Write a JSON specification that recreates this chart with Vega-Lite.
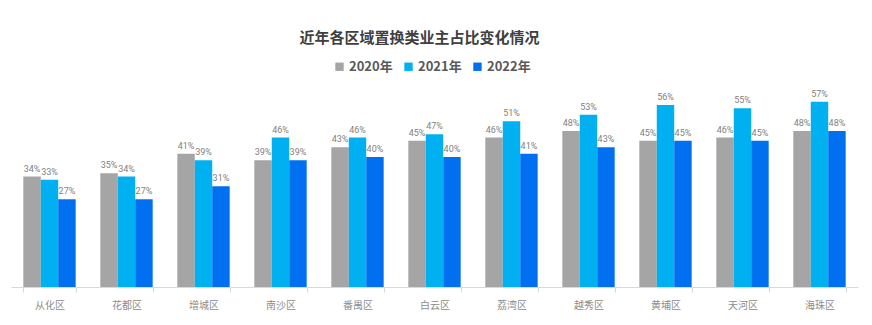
{
  "$schema": "https://vega.github.io/schema/vega-lite/v6.json",
  "autosize": "none",
  "width": 847,
  "height": 195,
  "padding": {"left": 11, "top": 92, "right": 14, "bottom": 38},
  "background": "white",
  "title": {
    "text": "近年各区域置换类业主占比变化情况",
    "fontSize": 15,
    "fontWeight": "bold",
    "color": "#404040",
    "font": "Noto Sans CJK SC",
    "anchor": "middle",
    "dx": -15,
    "offset": 14
  },
  "data": {
    "values": [
      {"district": "从化区", "year": "2020年", "value": 34},
      {"district": "从化区", "year": "2021年", "value": 33},
      {"district": "从化区", "year": "2022年", "value": 27},
      {"district": "花都区", "year": "2020年", "value": 35},
      {"district": "花都区", "year": "2021年", "value": 34},
      {"district": "花都区", "year": "2022年", "value": 27},
      {"district": "增城区", "year": "2020年", "value": 41},
      {"district": "增城区", "year": "2021年", "value": 39},
      {"district": "增城区", "year": "2022年", "value": 31},
      {"district": "南沙区", "year": "2020年", "value": 39},
      {"district": "南沙区", "year": "2021年", "value": 46},
      {"district": "南沙区", "year": "2022年", "value": 39},
      {"district": "番禺区", "year": "2020年", "value": 43},
      {"district": "番禺区", "year": "2021年", "value": 46},
      {"district": "番禺区", "year": "2022年", "value": 40},
      {"district": "白云区", "year": "2020年", "value": 45},
      {"district": "白云区", "year": "2021年", "value": 47},
      {"district": "白云区", "year": "2022年", "value": 40},
      {"district": "荔湾区", "year": "2020年", "value": 46},
      {"district": "荔湾区", "year": "2021年", "value": 51},
      {"district": "荔湾区", "year": "2022年", "value": 41},
      {"district": "越秀区", "year": "2020年", "value": 48},
      {"district": "越秀区", "year": "2021年", "value": 53},
      {"district": "越秀区", "year": "2022年", "value": 43},
      {"district": "黄埔区", "year": "2020年", "value": 45},
      {"district": "黄埔区", "year": "2021年", "value": 56},
      {"district": "黄埔区", "year": "2022年", "value": 45},
      {"district": "天河区", "year": "2020年", "value": 46},
      {"district": "天河区", "year": "2021年", "value": 55},
      {"district": "天河区", "year": "2022年", "value": 45},
      {"district": "海珠区", "year": "2020年", "value": 48},
      {"district": "海珠区", "year": "2021年", "value": 57},
      {"district": "海珠区", "year": "2022年", "value": 48}
    ]
  },
  "encoding": {
    "x": {
      "field": "district",
      "type": "nominal",
      "sort": null,
      "scale": {"paddingInner": 0.32, "paddingOuter": 0.16},
      "axis": {
        "title": null,
        "labelAngle": 0,
        "labelFont": "Noto Sans CJK SC",
        "labelFontSize": 10,
        "labelColor": "#8c8c8c",
        "labelPadding": 8,
        "domainColor": "#d9d9d9",
        "tickColor": "#d9d9d9",
        "tickBand": "extent",
        "tickSize": 5
      }
    },
    "xOffset": {"field": "year", "type": "nominal", "scale": {"paddingInner": 0, "paddingOuter": 0}},
    "y": {
      "field": "value",
      "type": "quantitative",
      "scale": {"domain": [0, 60]},
      "axis": null
    },
    "color": {
      "field": "year",
      "type": "nominal",
      "scale": {"domain": ["2020年", "2021年", "2022年"], "range": ["#a5a5a5", "#00b0f0", "#0070f0"]},
      "legend": {
        "title": null,
        "orient": "none",
        "direction": "horizontal",
        "legendX": 322,
        "legendY": -32,
        "symbolType": "square",
        "symbolSize": 70,
        "symbolStrokeWidth": 0,
        "labelFont": "Noto Sans CJK SC",
        "labelFontSize": 13,
        "labelFontWeight": "bold",
        "labelColor": "#595959",
        "labelOffset": 3,
        "columnPadding": 9
      }
    }
  },
  "layer": [
    {"mark": {"type": "bar", "stroke": null}},
    {
      "transform": [{"calculate": "datum.value + '%'", "as": "lbl"}],
      "mark": {"type": "text", "dy": -8, "fontSize": 9, "font": "Roboto", "color": "#7f7f7f"},
      "encoding": {
        "text": {"field": "lbl", "type": "nominal"},
        "color": {"value": "#7f7f7f"}
      }
    }
  ],
  "config": {"view": {"stroke": null}}
}
